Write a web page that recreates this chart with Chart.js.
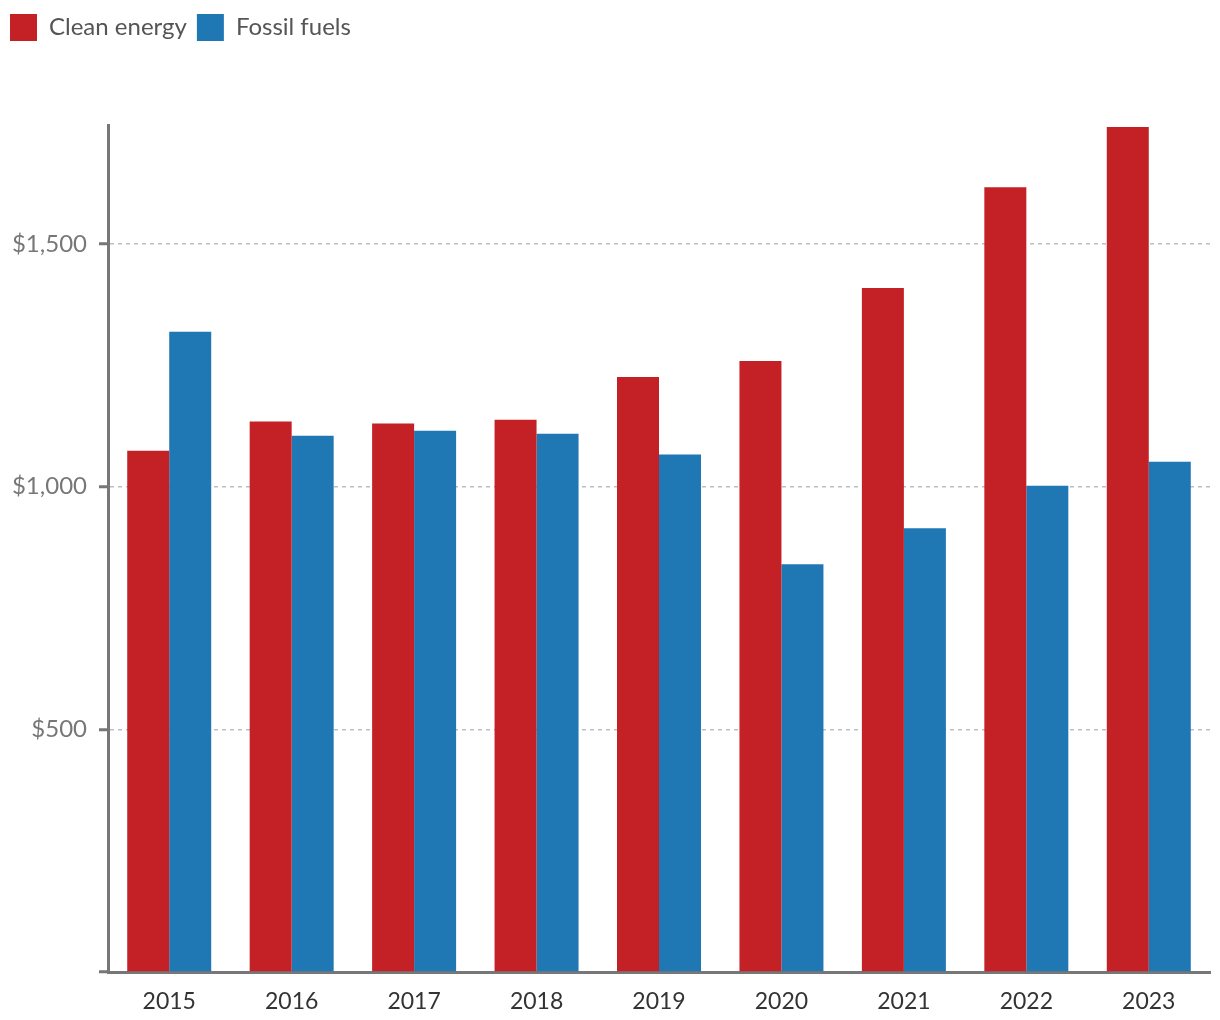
<!DOCTYPE html>
<html>
<head>
<meta charset="utf-8">
<script src="https://cdn.jsdelivr.net/npm/chart.js@4"></script>
<style>
  body { margin: 0; background: #fff; }
  #wrap { width: 1220px; height: 1020px; }
</style>
</head>
<body>
<div id="wrap"><canvas id="investChart"></canvas></div>
<script>
const years = ["2015", "2016", "2017", "2018", "2019", "2020", "2021", "2022", "2023"];
const cleanEnergy = [1074, 1134, 1130, 1138, 1226, 1259, 1409, 1617, 1741];
const fossilFuels = [1319, 1105, 1115, 1109, 1066, 840, 914, 1002, 1051];
const yTicks = [0, 500, 1000, 1500];

// push the plot area down below the legend
const legendGap = {
    id: "legendGap",
    beforeInit(chart) {
        const fit = chart.legend.fit;
        chart.legend.fit = function () {
            fit.bind(chart.legend)();
            this.height += 74;
        };
    }
};

Chart.defaults.font.family = "Lato, 'Open Sans', sans-serif";

const ctx = document.getElementById("investChart").getContext("2d");
new Chart(ctx, {
    type: "bar",
    data: {
        labels: years,
        datasets: [
            {
                label: "Clean energy",
                data: cleanEnergy,
                backgroundColor: "#c42127",
                categoryPercentage: 0.686,
                barPercentage: 1.0
            },
            {
                label: "Fossil fuels",
                data: fossilFuels,
                backgroundColor: "#1f78b4",
                categoryPercentage: 0.686,
                barPercentage: 1.0
            }
        ]
    },
    options: {
        responsive: true,
        maintainAspectRatio: false,
        animation: false,
        layout: { padding: { left: 0, right: 10, top: 4, bottom: 0 } },
        plugins: {
            legend: {
                position: "top",
                align: "start",
                labels: {
                    boxWidth: 27,
                    boxHeight: 27,
                    padding: 10,
                    color: "#555",
                    font: { size: 24 }
                }
            },
            tooltip: { enabled: false }
        },
        scales: {
            x: {
                grid: { display: false },
                border: { display: true, color: "#777", width: 3 },
                ticks: { color: "#333", font: { size: 23 }, padding: 8 },
                afterFit(axis) { axis.height = 48; }
            },
            y: {
                min: 0,
                max: 1745,
                afterBuildTicks(axis) {
                    axis.ticks = yTicks.map(v => ({ value: v }));
                },
                afterFit(axis) { axis.width = 108; },
                grid: {
                    color: "#b6c0c5",
                    lineWidth: 1.5,
                    tickColor: "#777",
                    tickWidth: 3,
                    tickLength: 9,
                    tickBorderDash: [],
                    drawOnChartArea: true
                },
                border: { display: true, color: "#777", width: 3, dash: [4, 4] },
                ticks: {
                    color: "#777",
                    font: { size: 24 },
                    padding: 12,
                    callback: v => v === 0 ? "" : "$" + v.toLocaleString("en-US")
                }
            }
        }
    },
    plugins: [legendGap]
});
</script>
</body>
</html>
